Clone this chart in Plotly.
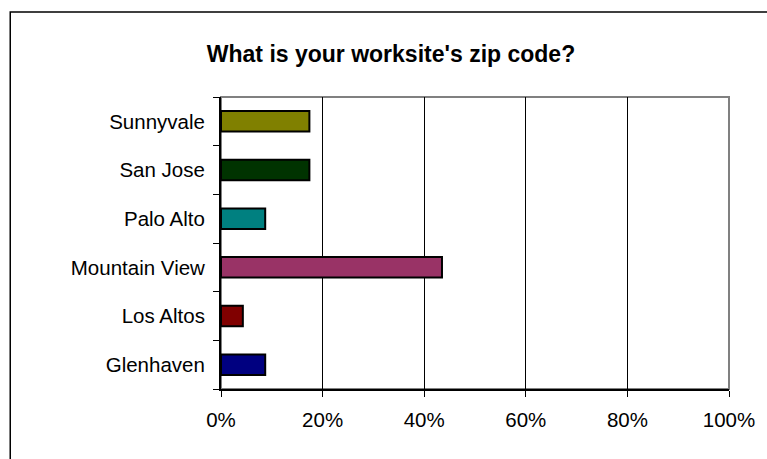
import plotly.graph_objects as go

categories = ["Glenhaven", "Los Altos", "Mountain View", "Palo Alto", "San Jose", "Sunnyvale"]
values = [8.7, 4.3, 43.5, 8.7, 17.4, 17.4]
colors = ["#000080", "#800000", "#993366", "#008080", "#003300", "#808000"]
tick_vals = [0, 20, 40, 60, 80, 100]
tick_text = ["0%", "20%", "40%", "60%", "80%", "100%"]

fig = go.Figure(go.Bar(
    y=categories, x=values, orientation="h",
    marker=dict(color=colors, line=dict(color="#000000", width=2)),
    hoverinfo="skip",
))

W, H = 767, 459
L, R, T, B = 221, 35, 97, 70
pw, ph = W - L - R, H - T - B

def px(x):
    return (x - L) / pw

def py(y):
    return (H - B - y) / ph

fig.update_layout(
    width=W, height=H,
    margin=dict(l=L, r=R, t=T, b=B),
    paper_bgcolor="white", plot_bgcolor="white",
    font=dict(family="Liberation Sans, Arial, sans-serif", size=20.5, color="#000000"),
    title=dict(text="<b>What is your worksite's zip code?</b>", x=391 / W, xanchor="center",
               y=1 - 54 / H, yanchor="middle", font=dict(size=23)),
    bargap=0.58,
    showlegend=False,
    xaxis=dict(range=[0, 100], tickvals=tick_vals, ticktext=tick_text,
               showgrid=True, gridcolor="#000000", gridwidth=1,
               showline=True, linecolor="#000000", linewidth=2,
               ticks="outside", ticklen=6, tickcolor="#000000", tickwidth=1,
               ticklabelstandoff=5,
               zeroline=False, fixedrange=True),
    yaxis=dict(categoryorder="array", categoryarray=categories,
               showline=True, linecolor="#000000", linewidth=2,
               ticks="outside", ticklen=6, tickcolor="#000000", tickwidth=1,
               tickson="boundaries", showgrid=False, ticklabelstandoff=10,
               fixedrange=True),
    shapes=[
        dict(type="rect", xref="paper", yref="paper", x0=0, x1=1, y0=0, y1=1,
             line=dict(color="#808080", width=2), layer="below"),
        dict(type="rect", xref="paper", yref="paper", x0=px(9), x1=px(800), y0=py(500), y1=py(12),
             line=dict(color="#000000", width=1.5), layer="below"),
    ],
)

fig.write_html("out.html", config={"displayModeBar": False},
               post_script="document.body.style.margin='0';")
